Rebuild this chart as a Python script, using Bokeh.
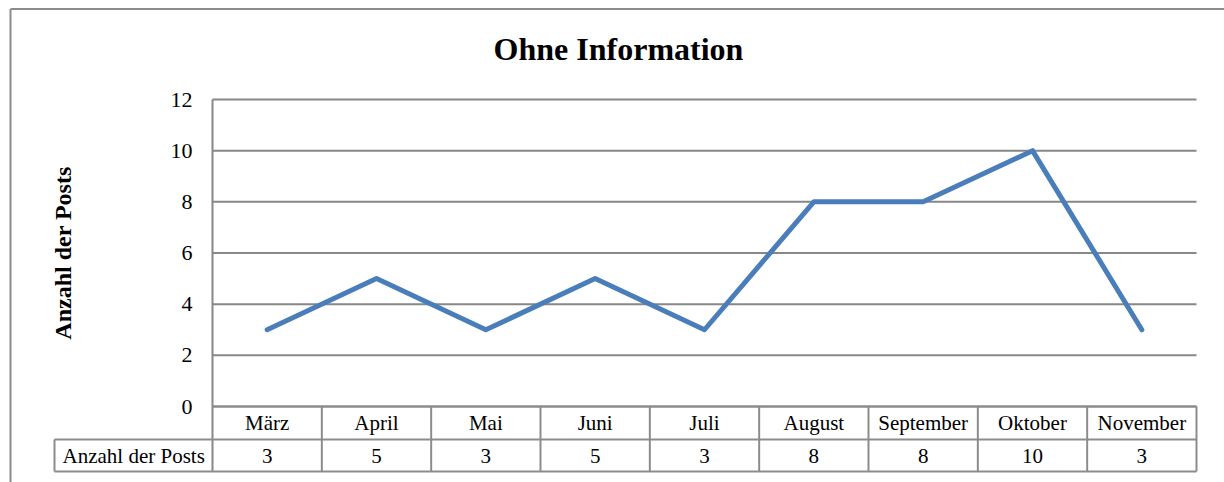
import math
from bokeh.plotting import figure
from bokeh.models import Range1d
from bokeh.embed import file_html
from bokeh.resources import INLINE
from bokeh.core.properties import value

# ---- data ----
categories = ["März", "April", "Mai", "Juni", "Juli", "August", "September", "Oktober", "November"]
posts = [3, 5, 3, 5, 3, 8, 8, 10, 3]
y_ticks = [0, 2, 4, 6, 8, 10, 12]
series_name = "Anzahl der Posts"
title_text = "Ohne Information"

# ---- layout constants (canvas pixels) ----
FONT = "Liberation Serif"
W, H = 1224, 482
AX_PX = 212.0                 # x of the value axis (category 0 boundary)
CW = (1196.0 - AX_PX) / 9     # category width
Y0_PX, Y12_PX = 406.0, 99.0
UNIT = (Y0_PX - Y12_PX) / 12.0
ROW1_PX, ROW2_PX = 439.0, 471.0   # table row lines
CELL_L_PX = 54.0
GRID_C = "#878787"
TAB_C = "#8c8c8c"
LINE_C = "#4a7ebb"

def dx(px):
    return (px - AX_PX) / CW

def dy(py):
    return (Y0_PX - py) / UNIT

n = len(categories)
xs = [i + 0.5 for i in range(n)]
y_r1, y_r2 = dy(ROW1_PX), dy(ROW2_PX)
x_cell = dx(CELL_L_PX)

p = figure(width=W, height=H, output_backend="svg", toolbar_location=None,
           x_range=Range1d(dx(0), dx(W)), y_range=Range1d(dy(H), dy(0)),
           x_axis_location=None, y_axis_location=None,
           min_border=0)
p.outline_line_color = None
p.background_fill_color = "white"
p.border_fill_color = "white"
p.grid.visible = False

# outer chart border (left and top edges; the rest lies outside the window)
p.segment(x0=[dx(10), dx(10)], x1=[dx(10), dx(W + 5)],
          y0=[dy(8.5), dy(8.5)], y1=[dy(H + 5), dy(8.5)],
          line_color=TAB_C, line_width=2)

# title
p.text(x=[dx(618)], y=[dy(48)], text=[title_text], text_font=value(FONT),
       text_font_size="32px", text_font_style="bold", text_color="black",
       text_align="center", text_baseline="middle")

# gridlines
p.segment(x0=[0] * len(y_ticks), x1=[n] * len(y_ticks), y0=y_ticks, y1=y_ticks,
          line_color=GRID_C, line_width=2)
# value axis line (continues through the table)
p.segment(x0=[0], x1=[0], y0=[max(y_ticks)], y1=[y_r2], line_color=GRID_C, line_width=2)

# tick labels
p.text(x=[dx(192)] * len(y_ticks), y=y_ticks, text=[str(t) for t in y_ticks],
       text_font=value(FONT), text_font_size="22px", text_color="black",
       text_align="right", text_baseline="middle")

# axis title
p.text(x=[dx(62)], y=[(min(y_ticks) + max(y_ticks)) / 2], text=[series_name],
       angle=math.pi / 2, text_font=value(FONT), text_font_size="24px",
       text_font_style="bold", text_color="black",
       text_align="center", text_baseline="middle")

# data table
p.segment(x0=[0, x_cell, x_cell], x1=[n, n, n], y0=[0, y_r1, y_r2], y1=[0, y_r1, y_r2],
          line_color=TAB_C, line_width=2)
p.segment(x0=list(range(1, n + 1)) + [x_cell], x1=list(range(1, n + 1)) + [x_cell],
          y0=[0] * n + [y_r1], y1=[y_r2] * (n + 1), line_color=TAB_C, line_width=2)
p.text(x=xs, y=[y_r1 / 2] * n, text=categories, text_font=value(FONT),
       text_font_size="21px", text_align="center", text_baseline="middle", text_color="black")
p.text(x=xs, y=[(y_r1 + y_r2) / 2] * n, text=[str(v) for v in posts], text_font=value(FONT),
       text_font_size="21px", text_align="center", text_baseline="middle", text_color="black")
p.text(x=[dx(62)], y=[(y_r1 + y_r2) / 2], text=[series_name], text_font=value(FONT),
       text_font_size="21px", text_align="left", text_baseline="middle", text_color="black")

# the series line
p.line(x=xs, y=posts, line_color=LINE_C, line_width=5, line_cap="round", line_join="round")

open("out.html", "w").write(file_html(p, INLINE))
